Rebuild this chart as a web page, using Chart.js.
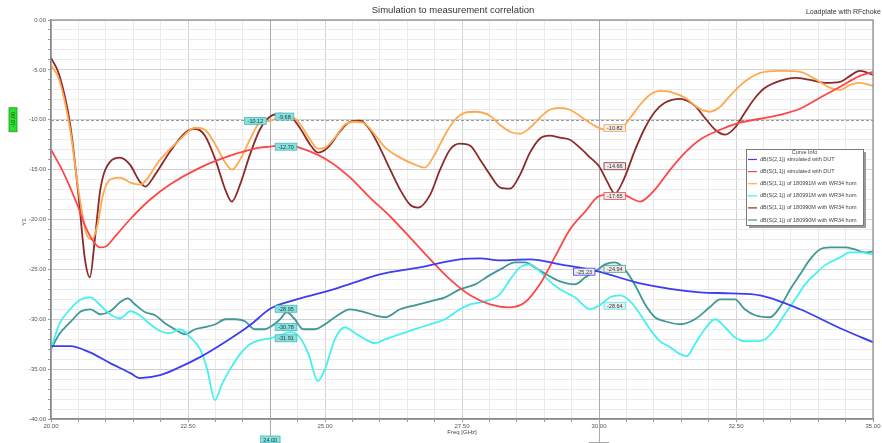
<!DOCTYPE html>
<html>
<head>
<meta charset="utf-8">
<script src="https://cdn.jsdelivr.net/npm/chart.js@4.4.1/dist/chart.umd.min.js"></script>
<style>
html, body { margin: 0; padding: 0; background: #fff; }
#wrap { width: 882px; height: 443px; position: relative; }
</style>
</head>
<body>
<div id="wrap"><canvas id="chart"></canvas></div>
<script>
// Data (frequency in GHz, level in dB)
const seriesLabels = [
    'dB(S(2,1)) simulated with DUT',
    'dB(S(1,1)) simulated with DUT',
    'dB(S(1,1)) of 180991M with WR34 horn',
    'dB(S(2,1)) of 180991M with WR34 horn',
    'dB(S(1,1)) of 180990M with WR34 horn',
    'dB(S(2,1)) of 180990M with WR34 horn'
];
const seriesColors = ['#3d3df2', '#ff4646', '#ffa94d', '#45f0f0', '#8c2a2a', '#3f9797'];

const s21SimFreq = [20.0, 20.35, 20.7, 21.08, 21.45, 21.62, 21.99, 22.35, 22.72, 23.2,
    23.63, 24.0, 24.36, 25.09, 25.6, 26.0, 26.73, 27.46, 27.83, 28.19,
    28.74, 29.29, 30.0, 30.75, 31.84, 32.4, 32.94, 33.67, 34.4, 35.0];
const s21SimDb = [-32.7, -32.7, -33.3, -34.4, -35.4, -35.9, -35.6, -34.8, -33.8, -32.2,
    -30.6, -28.95, -28.2, -27.1, -26.2, -25.5, -24.8, -24.0, -23.9, -24.1,
    -24.0, -24.5, -25.23, -26.4, -27.3, -27.4, -27.6, -29.0, -30.9, -32.3];

const s11SimFreq = [20.0, 20.2, 20.35, 20.5, 20.62, 20.75, 20.89, 21.0, 21.17, 21.44,
    21.81, 22.17, 22.72, 23.27, 23.81, 24.0, 24.27, 24.64, 25.09, 25.46,
    25.82, 26.19, 26.55, 26.92, 27.28, 27.65, 28.01, 28.38, 28.65, 28.92,
    29.2, 29.47, 29.75, 30.0, 30.38, 30.75, 31.02, 31.3, 31.57, 31.84,
    32.21, 32.57, 32.94, 33.3, 33.67, 34.03, 34.4, 34.76, 35.0];
const s11SimDb = [-13.0, -15.0, -16.8, -18.8, -20.6, -22.0, -22.8, -22.7, -21.7, -20.0,
    -18.0, -16.5, -14.8, -13.6, -12.8, -12.7, -12.5, -13.0, -14.2, -15.8,
    -17.8, -19.7, -21.8, -24.0, -26.0, -27.6, -28.5, -28.8, -28.3, -26.5,
    -23.7, -21.0, -19.2, -17.65, -17.4, -18.2, -17.0, -15.0, -13.3, -12.0,
    -11.0, -10.3, -9.9, -9.5, -8.9, -7.8, -6.7, -5.6, -5.2];

const s11M91Freq = [20.0, 20.15, 20.35, 20.5, 20.65, 20.75, 20.85, 20.95, 21.08, 21.26,
    21.45, 21.62, 21.99, 22.35, 22.63, 22.81, 23.0, 23.18, 23.3, 23.45,
    23.63, 23.81, 24.0, 24.18, 24.36, 24.54, 24.73, 24.87, 25.0, 25.18,
    25.36, 25.55, 25.73, 25.91, 26.1, 26.37, 26.64, 26.82, 27.0, 27.19,
    27.37, 27.55, 27.74, 28.01, 28.19, 28.38, 28.56, 28.74, 28.92, 29.1,
    29.29, 29.47, 29.75, 30.0, 30.2, 30.38, 30.57, 30.75, 30.93, 31.11,
    31.3, 31.57, 31.84, 32.02, 32.21, 32.39, 32.57, 32.76, 32.94, 33.3,
    33.67, 33.94, 34.22, 34.4, 34.58, 34.76, 35.0];
const s11M91Db = [-4.5, -6.0, -11.0, -17.0, -21.5, -22.0, -20.5, -17.5, -16.0, -15.8,
    -16.3, -16.5, -14.0, -12.0, -10.8, -11.0, -12.5, -14.3, -15.0, -14.0,
    -12.0, -10.3, -10.12, -9.7, -9.6, -10.4, -12.0, -12.9, -12.8, -11.8,
    -10.5, -10.2, -10.4, -11.5, -12.8, -13.8, -14.5, -14.8, -13.5, -11.5,
    -10.0, -9.3, -9.2, -9.6, -10.5, -11.2, -11.4, -10.8, -9.8, -9.0,
    -8.8, -9.0, -10.0, -10.82, -11.1, -11.0, -9.8, -8.5, -7.5, -7.1,
    -7.2, -7.8, -8.9, -9.2, -8.7, -7.6, -6.6, -5.8, -5.3, -5.1,
    -5.2, -5.9, -6.8, -7.0, -6.5, -6.3, -6.6];

const s21M91Freq = [20.0, 20.15, 20.35, 20.55, 20.72, 20.9, 21.08, 21.26, 21.45, 21.62,
    21.81, 22.0, 22.17, 22.35, 22.54, 22.72, 22.85, 22.99, 23.12, 23.27,
    23.45, 23.63, 23.81, 24.0, 24.18, 24.36, 24.54, 24.7, 24.87, 25.0,
    25.18, 25.36, 25.55, 25.73, 25.91, 26.1, 26.37, 26.64, 26.92, 27.19,
    27.46, 27.65, 27.92, 28.19, 28.38, 28.56, 28.74, 28.92, 29.1, 29.29,
    29.56, 29.84, 30.0, 30.2, 30.38, 30.57, 30.75, 30.93, 31.11, 31.3,
    31.48, 31.6, 31.75, 31.93, 32.12, 32.3, 32.48, 32.66, 32.85, 33.03,
    33.21, 33.39, 33.58, 33.76, 33.94, 34.12, 34.4, 34.58, 34.76, 35.0];
const s21M91Db = [-33.0, -30.5, -29.0, -28.0, -27.8, -28.6, -29.5, -29.9, -29.2, -29.6,
    -30.5, -31.2, -31.4, -31.0, -31.8, -33.0, -35.0, -38.1, -36.5, -35.0,
    -33.5, -32.5, -32.1, -31.91, -31.6, -31.3, -31.8, -33.5, -36.2, -35.0,
    -32.0, -30.8, -31.4, -32.0, -32.4, -32.0, -31.5, -31.0, -30.5, -30.0,
    -29.0, -28.5, -28.2, -27.5, -26.0, -24.8, -24.5, -25.2, -26.2, -27.0,
    -27.8, -29.0, -28.64, -27.8, -27.6, -28.2, -29.5, -31.0, -32.2, -32.8,
    -33.5, -33.7, -32.5, -31.0, -30.0, -30.8, -31.8, -32.2, -32.2, -32.0,
    -31.0, -29.5, -28.0, -26.5, -25.5, -24.6, -23.8, -23.3, -23.3, -23.5];

const s11M90Freq = [20.0, 20.15, 20.35, 20.5, 20.62, 20.71, 20.8, 20.9, 21.08, 21.26,
    21.44, 21.62, 21.72, 21.9, 22.17, 22.45, 22.63, 22.81, 23.0, 23.18,
    23.3, 23.45, 23.63, 23.81, 24.0, 24.18, 24.36, 24.54, 24.73, 24.87,
    25.05, 25.27, 25.46, 25.64, 25.82, 26.0, 26.19, 26.37, 26.55, 26.7,
    26.92, 27.1, 27.28, 27.46, 27.65, 27.83, 28.01, 28.2, 28.38, 28.56,
    28.74, 28.92, 29.1, 29.29, 29.47, 29.65, 29.84, 30.0, 30.15, 30.29,
    30.45, 30.66, 30.84, 31.02, 31.2, 31.48, 31.75, 31.93, 32.12, 32.3,
    32.48, 32.66, 32.85, 33.03, 33.3, 33.58, 33.85, 34.12, 34.4, 34.58,
    34.76, 35.0];
const s11M90Db = [-3.8, -5.5, -10.5, -17.5, -24.0, -25.8, -22.0, -17.0, -14.2, -13.8,
    -14.5, -16.2, -16.7, -15.5, -13.2, -11.3, -10.9, -11.6, -14.0, -17.0,
    -18.2, -16.5, -13.5, -11.0, -9.68, -9.4, -9.6, -10.8, -12.5, -13.3,
    -12.8, -11.2, -10.2, -10.1, -11.0, -12.8, -15.0, -17.0, -18.5, -18.8,
    -17.5, -15.0, -13.0, -12.4, -12.6, -14.0, -15.5, -16.8, -16.9, -15.5,
    -13.3, -11.9, -11.6, -11.8, -12.0, -12.8, -13.8, -14.66, -16.2, -17.4,
    -16.0, -13.0, -10.8, -9.2, -8.3, -7.9, -8.6, -9.8, -11.0, -11.5,
    -10.8, -9.3, -7.8, -6.8, -6.1, -5.8, -6.0, -6.3, -6.2, -5.6,
    -5.1, -5.5];

const s21M90Freq = [20.0, 20.15, 20.35, 20.55, 20.72, 20.9, 21.08, 21.26, 21.4, 21.53,
    21.72, 21.9, 22.08, 22.26, 22.45, 22.63, 22.81, 23.0, 23.18, 23.36,
    23.54, 23.72, 23.9, 24.0, 24.18, 24.3, 24.45, 24.6, 24.82, 25.0,
    25.18, 25.46, 25.73, 25.91, 26.1, 26.37, 26.64, 26.92, 27.19, 27.46,
    27.74, 28.0, 28.2, 28.47, 28.65, 28.83, 29.01, 29.29, 29.56, 29.75,
    30.0, 30.11, 30.29, 30.47, 30.66, 30.84, 31.02, 31.2, 31.48, 31.75,
    32.02, 32.21, 32.48, 32.66, 32.85, 33.12, 33.3, 33.49, 33.67, 33.85,
    34.03, 34.22, 34.49, 34.67, 34.85, 35.0];
const s21M90Db = [-33.0, -31.5, -30.3, -29.2, -29.0, -29.5, -29.2, -28.3, -27.9, -28.5,
    -29.3, -29.6, -30.4, -31.0, -31.5, -31.0, -30.8, -30.5, -30.0, -30.0,
    -30.2, -31.0, -31.0, -30.78, -30.0, -29.3, -30.0, -31.0, -31.0, -30.5,
    -29.8, -29.0, -29.3, -29.6, -29.8, -29.0, -28.6, -28.2, -27.8, -27.0,
    -26.5, -25.6, -25.0, -24.3, -24.3, -24.8, -25.4, -26.2, -26.5, -25.8,
    -24.94, -24.5, -24.3, -25.0, -26.6, -28.5, -29.8, -30.2, -30.5, -30.0,
    -28.8, -28.0, -28.0, -29.0, -29.6, -29.8, -28.8, -27.0, -25.5, -24.0,
    -23.0, -22.8, -22.8, -23.0, -23.3, -23.2];

// Marker readouts (same series order as seriesLabels)
const markerFreqs = [24.0, 30.0];
const markerAt24 = [-28.95, -12.70, -10.12, -31.91, -9.68, -30.78];
const markerAt30 = [-25.23, -17.65, -10.82, -28.64, -14.66, -24.94];
const refLevel = -10;

const FONT = "'Liberation Sans', Arial, sans-serif";

function toPoints(freqs, dbs) {
    return freqs.map((f, i) => ({ x: f, y: dbs[i] }));
}

const seriesData = [
    toPoints(s21SimFreq, s21SimDb),
    toPoints(s11SimFreq, s11SimDb),
    toPoints(s11M91Freq, s11M91Db),
    toPoints(s21M91Freq, s21M91Db),
    toPoints(s11M90Freq, s11M90Db),
    toPoints(s21M90Freq, s21M90Db)
];

const datasets = seriesData.map((pts, i) => ({
    label: seriesLabels[i],
    data: pts,
    borderColor: seriesColors[i],
    backgroundColor: seriesColors[i],
    borderWidth: 1.8,
    pointRadius: 0,
    fill: false,
    cubicInterpolationMode: 'monotone'
}));

function isMultiple(v, step) {
    const r = v / step;
    return Math.abs(r - Math.round(r)) < 1e-6;
}

function drawBox(ctx, text, x, y, align, fill, stroke) {
    ctx.font = '5.5px ' + FONT;
    const w = ctx.measureText(text).width + 6;
    const h = 7;
    const left = align === 'left' ? x - w : (align === 'center' ? x - w / 2 : x);
    ctx.fillStyle = fill;
    ctx.fillRect(left, y - h / 2, w, h);
    ctx.strokeStyle = stroke;
    ctx.lineWidth = 0.8;
    ctx.strokeRect(left, y - h / 2, w, h);
    ctx.fillStyle = '#333';
    ctx.textAlign = 'center';
    ctx.textBaseline = 'middle';
    ctx.fillText(text, left + w / 2, y + 0.5);
}

const overlayPlugin = {
    id: 'overlay',
    beforeDatasetsDraw(chart) {
        const { ctx, chartArea: a, scales: { x, y } } = chart;
        ctx.save();
        // dashed reference line
        const yr = Math.round(y.getPixelForValue(refLevel)) + 0.5;
        ctx.strokeStyle = '#9a9a9a';
        ctx.lineWidth = 1;
        ctx.setLineDash([3, 2]);
        ctx.beginPath();
        ctx.moveTo(a.left, yr);
        ctx.lineTo(a.right, yr);
        ctx.stroke();
        ctx.setLineDash([]);
        // marker lines
        markerFreqs.forEach(f => {
            const px = Math.round(x.getPixelForValue(f)) + 0.5;
            ctx.strokeStyle = '#ababab';
            ctx.beginPath();
            ctx.moveTo(px, a.top);
            ctx.lineTo(px, chart.height);
            ctx.stroke();
        });
        ctx.restore();
    },
    afterDraw(chart) {
        const { ctx, chartArea: a, scales: { x, y } } = chart;
        ctx.save();

        // frame
        ctx.strokeStyle = '#8a8a8a';
        ctx.lineWidth = 1.2;
        ctx.strokeRect(a.left, a.top, a.right - a.left, a.bottom - a.top);

        // titles
        ctx.fillStyle = '#333';
        ctx.textBaseline = 'middle';
        ctx.textAlign = 'center';
        ctx.font = '9.5px ' + FONT;
        ctx.fillText('Simulation to measurement correlation', 453, 10.5);
        ctx.textAlign = 'right';
        ctx.font = '7px ' + FONT;
        ctx.fillText('Loadplate with RFchoke', 881, 12);

        // axis titles
        ctx.fillStyle = '#444';
        ctx.font = '6px ' + FONT;
        ctx.textAlign = 'center';
        ctx.fillText('Freq [GHz]', (a.left + a.right) / 2, 432);
        ctx.save();
        ctx.translate(24, 222);
        ctx.rotate(-Math.PI / 2);
        ctx.fillText('Y1', 0, 0);
        ctx.restore();

        // green level marker on the y axis
        const yg = y.getPixelForValue(refLevel);
        ctx.fillStyle = '#2ee02e';
        ctx.strokeStyle = '#1a9a1a';
        ctx.lineWidth = 0.8;
        ctx.fillRect(9, yg - 12, 8, 24);
        ctx.strokeRect(9, yg - 12, 8, 24);
        ctx.save();
        ctx.translate(13.3, yg);
        ctx.rotate(-Math.PI / 2);
        ctx.fillStyle = '#1b3b1b';
        ctx.font = '5.5px ' + FONT;
        ctx.textAlign = 'center';
        ctx.textBaseline = 'middle';
        ctx.fillText(refLevel.toFixed(2), 0, 0);
        ctx.restore();

        // marker readouts
        const readouts = [markerAt24, markerAt30];
        const leftSide = [[2], [0]];
        markerFreqs.forEach((f, m) => {
            const px = x.getPixelForValue(f);
            const first = m === 0;
            readouts[m].forEach((v, i) => {
                const py = y.getPixelForValue(v);
                const onLeft = leftSide[m].includes(i);
                const fill = first ? '#86e2e2' : '#ececec';
                const stroke = first ? '#4cb8b8' : seriesColors[i];
                drawBox(ctx, v.toFixed(2), onLeft ? px - 4 : px + 5, py, onLeft ? 'left' : 'right', fill, stroke);
            });
            drawBox(ctx, f.toFixed(2), px, first ? 439.5 : 446, 'center',
                first ? '#86e2e2' : '#dcdcdc', first ? '#4cb8b8' : '#999');
        });

        // legend box
        const lx = 746, ly = 149, lw = 117, lh = 76;
        ctx.fillStyle = '#9a9a9a';
        ctx.fillRect(lx + 3, ly + 3, lw, lh);
        ctx.fillStyle = '#fff';
        ctx.fillRect(lx, ly, lw, lh);
        ctx.strokeStyle = '#7a7a7a';
        ctx.lineWidth = 1;
        ctx.strokeRect(lx + 0.5, ly + 0.5, lw, lh);
        ctx.fillStyle = '#444';
        ctx.font = '5.5px ' + FONT;
        ctx.textAlign = 'center';
        ctx.textBaseline = 'middle';
        ctx.fillText('Curve Info', lx + lw / 2, ly + 3.5);
        chart.data.datasets.forEach((ds, i) => {
            const ry = ly + 10.5 + i * 12.1;
            ctx.strokeStyle = ds.borderColor;
            ctx.lineWidth = 1.2;
            ctx.beginPath();
            ctx.moveTo(lx + 2, ry);
            ctx.lineTo(lx + 11, ry);
            ctx.stroke();
            ctx.fillStyle = '#444';
            ctx.textAlign = 'left';
            ctx.fillText(ds.label, lx + 14, ry);
        });

        ctx.restore();
    }
};

new Chart(document.getElementById('chart'), {
    type: 'line',
    data: { datasets: datasets },
    options: {
        responsive: true,
        maintainAspectRatio: false,
        animation: false,
        layout: { padding: { top: 20, right: 9, left: 0, bottom: 0 } },
        plugins: {
            legend: { display: false },
            tooltip: { enabled: false },
            title: { display: false }
        },
        scales: {
            x: {
                type: 'linear',
                min: 20,
                max: 35,
                afterFit: scale => { scale.height = 24; },
                ticks: {
                    stepSize: 0.5,
                    autoSkip: false,
                    maxRotation: 0,
                    padding: 1,
                    color: '#555',
                    font: { family: FONT, size: 6 },
                    callback: v => isMultiple(v, 2.5) ? v.toFixed(2) : ''
                },
                grid: {
                    color: c => isMultiple(c.tick.value, 2.5) ? '#d2d2d2' : '#ebebeb',
                    tickColor: '#9a9a9a',
                    tickLength: 3
                },
                border: { color: '#8a8a8a', width: 1.2 }
            },
            y: {
                min: -40,
                max: 0,
                afterFit: scale => { scale.width = 51; },
                ticks: {
                    stepSize: 1,
                    autoSkip: false,
                    padding: 2,
                    color: '#555',
                    font: { family: FONT, size: 6 },
                    callback: v => isMultiple(v, 5) ? v.toFixed(2) : ''
                },
                grid: {
                    color: c => isMultiple(c.tick.value, 5) ? '#d2d2d2' : '#ebebeb',
                    tickColor: '#9a9a9a',
                    tickLength: 3
                },
                border: { color: '#8a8a8a', width: 1.2 }
            }
        }
    },
    plugins: [overlayPlugin]
});
</script>
</body>
</html>
